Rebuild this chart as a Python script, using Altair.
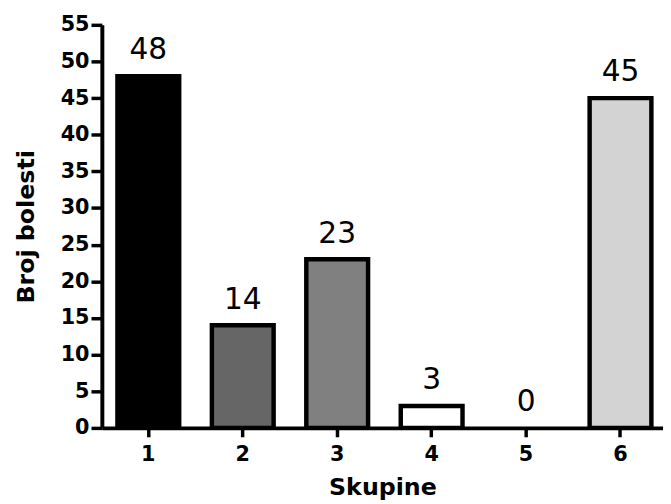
import altair as alt
import pandas as pd

groups = ["1", "2", "3", "4", "5", "6"]
counts = [48, 14, 23, 3, 0, 45]
fills = ["#000000", "#666666", "#808080", "#ffffff", "#ffffff", "#d3d3d3"]
y_ticks = list(range(0, 56, 5))

df = pd.DataFrame({"Skupine": groups, "Broj": counts, "fill": fills})

FONT = "DejaVu Sans"

x_enc = alt.X(
    "Skupine:N",
    sort=groups,
    title="Skupine",
    scale=alt.Scale(paddingInner=0.346, paddingOuter=0.144, align=0.573),
    axis=alt.Axis(
        labelAngle=0,
        labelFont=FONT,
        labelFontWeight="bold",
        labelFontSize=21,
        labelColor="black",
        labelPadding=7,
        tickSize=9,
        tickWidth=3.5,
        tickColor="black",
        domainColor="black",
        domainWidth=4,
        titleFont=FONT,
        titleFontWeight="bold",
        titleFontSize=24,
        titleColor="black",
        titlePadding=11,
    ),
)

y_enc = alt.Y(
    "Broj:Q",
    title="Broj bolesti",
    scale=alt.Scale(domain=[0, 55], nice=False),
    axis=alt.Axis(
        values=y_ticks,
        labelOverlap=False,
        labelFont=FONT,
        labelFontWeight="bold",
        labelFontSize=21,
        labelColor="black",
        labelPadding=2,
        tickSize=11,
        tickWidth=3.5,
        tickColor="black",
        domainColor="black",
        domainWidth=4,
        titleFont=FONT,
        titleFontWeight="bold",
        titleFontSize=24,
        titleColor="black",
        titlePadding=22,
        grid=False,
    ),
)

base = alt.Chart(df).encode(x=x_enc, y=y_enc)

bars = base.transform_filter("datum.Broj > 0").mark_bar(
    stroke="black", strokeWidth=4.5
).encode(
    color=alt.Color("fill:N", scale=None),
)

labels = base.mark_text(
    font=FONT, fontSize=30, color="black", baseline="alphabetic", dy=-17
).encode(
    text=alt.Text("Broj:Q"),
)

chart = (
    alt.layer(bars, labels)
    .properties(
        width=568,
        height=408,
        autosize=alt.AutoSizeParams(type="none"),
        padding={"left": 95, "top": 14, "right": 0, "bottom": 74},
        background="white",
    )
    .configure_view(stroke=None)
    .configure_axis(grid=False)
)

chart.save("out.html", embed_options={"renderer": "svg", "actions": False})
